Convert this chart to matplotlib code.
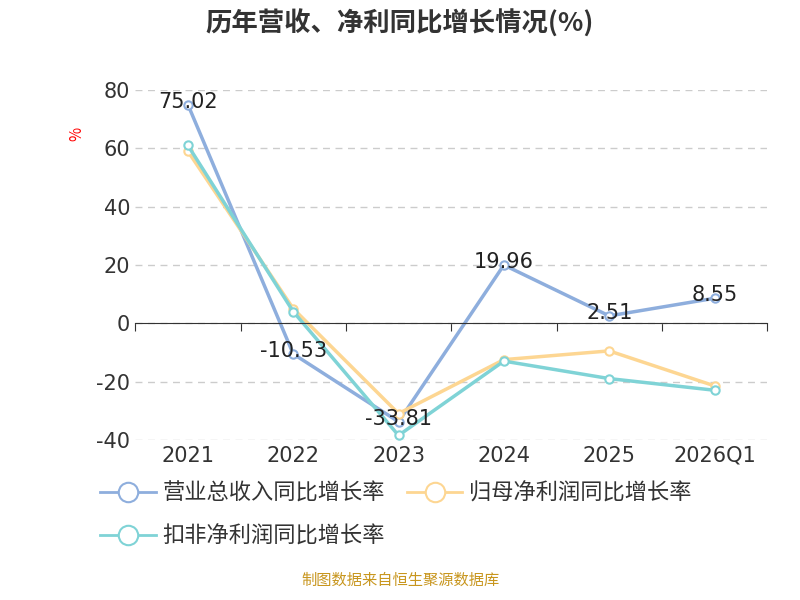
import matplotlib
matplotlib.use("Agg")
import matplotlib.pyplot as plt
from matplotlib.lines import Line2D

plt.rcParams['font.family'] = ['Noto Sans CJK SC', 'DejaVu Sans']
plt.rcParams['axes.unicode_minus'] = False

categories = ["2021", "2022", "2023", "2024", "2025", "2026Q1"]
revenue = [75.02, -10.53, -33.81, 19.96, 2.51, 8.55]
net_profit = [59.0, 5.0, -31.0, -12.5, -9.5, -21.5]
deducted = [61.0, 4.0, -38.5, -13.0, -19.0, -23.0]
names = ["营业总收入同比增长率", "归母净利润同比增长率", "扣非净利润同比增长率"]
colors = ["#8eaedd", "#fdd692", "#7fd3d6"]

fig = plt.figure(figsize=(8, 6), dpi=100)
ax = fig.add_axes([0.169, 0.267, 0.79, 0.583])
x = list(range(len(categories)))
for vals, c, n in zip([revenue, net_profit, deducted], colors, names):
    ax.plot(x, vals, color=c, lw=2.5, marker='o', ms=6, mfc='white', mec=c, mew=1.5, label=n)
for i, v in enumerate(revenue):
    ax.text(i, v + 1, f"{v:.2f}", ha='center', va='center', fontsize=15, color='#222222',
            family=['DejaVu Sans'])

ax.set_xlim(-0.5, 5.5)
ax.set_ylim(-40, 80)
ax.set_yticks(range(-40, 81, 20))
ax.grid(axis='y', ls=(0, (5, 4)), color='#cccccc', lw=1)
for s in ['top', 'right', 'left']:
    ax.spines[s].set_visible(False)
ax.spines['bottom'].set_position(('data', 0))
ax.spines['bottom'].set_color('#333333')
ax.set_xticks([i + 0.5 for i in range(-1, 6)], minor=False)
ax.set_xticklabels([])
ax.tick_params(axis='x', length=6, color='#333333')
for i, c in enumerate(categories):
    ax.text(i, -42, c, ha='center', va='top', fontsize=15, color='#333333', family=['DejaVu Sans'])
ax.tick_params(axis='y', length=0, labelsize=15, labelcolor='#333333')
for lbl in ax.get_yticklabels():
    lbl.set_family('DejaVu Sans')
ax.text(-1.05, 65, "%", color='red', fontsize=11, rotation=90, ha='center', va='center')

fig.text(0.5, 0.96, "历年营收、净利同比增长情况(%)", ha='center', va='center', fontsize=19, fontweight='bold', color='#333333')

handles = [Line2D([0], [0], color=c, lw=2, marker='o', ms=14, mfc='white', mec=c, mew=1.5) for c in colors]
fig.legend(handles[:2], names[:2], loc='center left', bbox_to_anchor=(0.1, 0.178), ncol=2, frameon=False,
           fontsize=16, handlelength=2.5, columnspacing=1.0, handletextpad=0.3, labelcolor='#333333')
fig.legend(handles[2:], names[2:], loc='center left', bbox_to_anchor=(0.1, 0.107), frameon=False,
           fontsize=16, handlelength=2.5, handletextpad=0.3, labelcolor='#333333')
fig.text(0.5, 0.018, "制图数据来自恒生聚源数据库", ha='center', va='bottom', fontsize=11, color='#c8961e')

fig.savefig("out.png", dpi=100)
